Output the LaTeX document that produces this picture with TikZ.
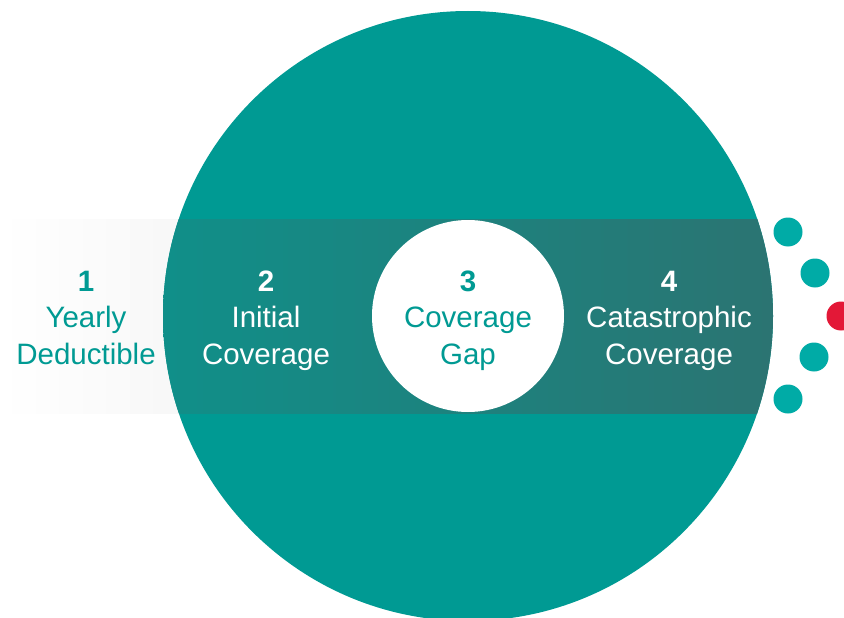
\documentclass[tikz,border=0pt]{standalone}
\usepackage{fontspec}
\setmainfont{Liberation Sans}
\usetikzlibrary{positioning}
\definecolor{discteal}{HTML}{009A93}
\definecolor{dotteal}{HTML}{00ABA6}
\definecolor{dotred}{HTML}{E31837}
\definecolor{bandleft}{HTML}{108F89}
\definecolor{bandright}{HTML}{2B7472}
\definecolor{bandgray}{HTML}{EBEBEB}

\tikzset{
  stage/.style={align=center, anchor=base, inner sep=0pt,
    font=\fontsize{29.5}{36.5}\selectfont},
  dot/.style={circle, inner sep=0pt, minimum size=29pt, fill=dotteal},
}

\begin{document}
\begin{tikzpicture}[x=1pt, y=-1pt]

  \useasboundingbox (0,0) rectangle (844,618);

  % Grey band on the left
  \shade[left color=white, right color=bandgray] (0,219) rectangle (470,413);

  % Big disc
  \node[circle, inner sep=0pt, minimum size=610pt, fill=discteal] (disc) at (468,316) {};

  % Darker band inside the disc
  \begin{scope}
    \clip (468,316) circle (305);
    \shade[left color=bandleft, right color=bandright] (163,219) rectangle (773,413);
  \end{scope}

  % Gap circle
  \node[circle, inner sep=0pt, minimum size=192pt, fill=white] (gap) at (468,316) {};

  % Stage labels (base = last line)
  \node[stage, text=discteal] (deductible) at (86,364) {\textbf{1}\\Yearly\\Deductible};
  \node[stage, text=white] (initial) at (266,364) {\textbf{2}\\Initial\\Coverage};
  \node[stage, text=discteal] (gaptext) at (468,364) {\textbf{3}\\Coverage\\Gap};
  \node[stage, text=white] (catastrophic) at (669,364) {\textbf{4}\\Catastrophic\\Coverage};

  % Dots on the right
  \node[dot] (dot1) at (788,232) {};
  \node[dot] (dot2) at (815,273) {};
  \node[dot, fill=dotred] (dot3) at (841,316) {};
  \node[dot] (dot4) at (814,357) {};
  \node[dot] (dot5) at (788,399) {};

\end{tikzpicture}
\end{document}
